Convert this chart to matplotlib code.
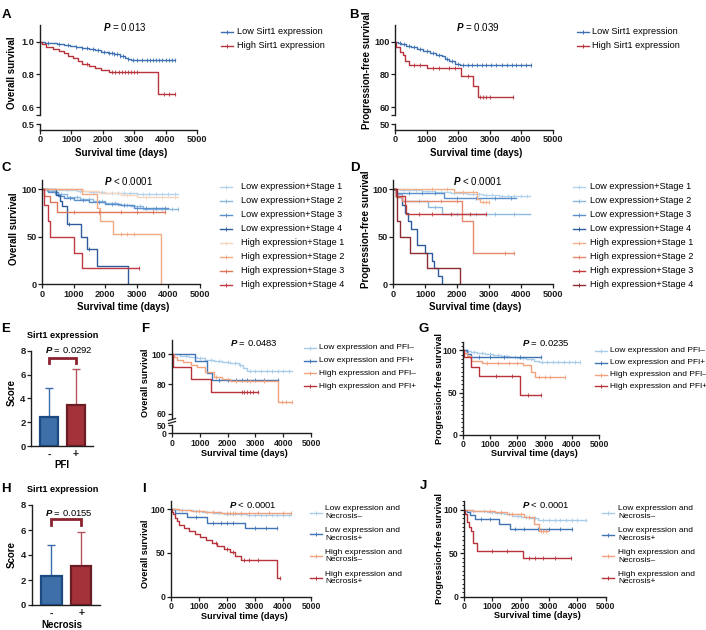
import numpy as np
import matplotlib
matplotlib.use("Agg")
import matplotlib.pyplot as plt
from matplotlib.lines import Line2D
from matplotlib.ticker import MultipleLocator

plt.rcParams['font.family'] = ['Liberation Sans', 'DejaVu Sans']
plt.rcParams['font.weight'] = 'bold'
plt.rcParams['mathtext.fontset'] = 'custom'
plt.rcParams['mathtext.it'] = 'Liberation Sans:italic'
plt.rcParams['mathtext.rm'] = 'Liberation Sans'

W, H = 706, 630
AXC = '#1e1e1e'

# ---------------- data ----------------
x_ticks = [0, 1000, 2000, 3000, 4000, 5000]

# A: overall survival, Sirt1 low/high (fraction)
A_low_t = [150, 350, 550, 750, 950, 1150, 1350, 1550, 1750, 1950, 2150, 2350, 2550, 2700, 2800, 2900]
A_low_s = [0.995, 0.99, 0.985, 0.98, 0.975, 0.968, 0.962, 0.955, 0.947, 0.938, 0.93, 0.922, 0.912, 0.902, 0.893, 0.886]
A_low_end = 4300
A_low_c = [250, 600, 900, 1150, 1350, 1500, 1700, 1850, 2050, 2200, 2300, 2350, 2450, 2550, 2650,
           2800, 2950, 3100, 3250, 3400, 3500, 3600, 3700, 3800, 3900, 4000, 4100, 4200, 4300]
A_high_t = [50, 200, 400, 600, 750, 900, 1050, 1200, 1350, 1550, 1750, 1950, 2200, 3750]
A_high_s = [0.985, 0.97, 0.955, 0.945, 0.93, 0.915, 0.9, 0.88, 0.862, 0.85, 0.84, 0.83, 0.815, 0.68]
A_high_end = 4300
A_high_c = [1500, 2300, 2400, 2500, 2600, 2700, 2800, 2900, 3000, 3100, 3950, 4100, 4300]

# B: progression-free survival, Sirt1 low/high (%)
B_low_t = [100, 200, 350, 500, 700, 900, 1100, 1300, 1500, 1600, 1700, 1900, 2050]
B_low_s = [99, 98.5, 97.5, 96.5, 95.5, 94.5, 93, 92, 91, 89.5, 88, 86.5, 85.5]
B_low_end = 4300
B_low_c = [150, 300, 450, 600, 800, 1000, 1200, 1400, 1650, 1800, 2000, 2150, 2300, 2450, 2600,
           2750, 2900, 3050, 3200, 3400, 3550, 3700, 3850, 4000, 4150, 4300]
B_high_t = [40, 150, 250, 320, 450, 1000, 2100, 2480, 2640]
B_high_s = [97, 94, 92, 88, 86, 84, 79, 73, 66.5]
B_high_end = 3750
B_high_c = [600, 800, 1200, 1400, 1700, 1900, 2300, 2700, 2800, 2900, 3000, 3750]

# C: overall survival by expression + stage (%)
stage_labels = ['Low expression+Stage 1', 'Low expression+Stage 2', 'Low expression+Stage 3',
                'Low expression+Stage 4', 'High expression+Stage 1', 'High expression+Stage 2',
                'High expression+Stage 3', 'High expression+Stage 4']
C_colors = ['#b3d3ec', '#8bb9e0', '#5b8fcb', '#2f5d9c', '#f7d6bd', '#f2a881', '#e07658', '#c23843']
C_t = [[300, 700, 1100, 1500, 2000, 2500, 3000],
       [150, 400, 800, 1200, 1600, 2000, 2400, 2800, 3200],
       [200, 500, 700, 1000, 1500, 2000, 2500, 2900],
       [450, 560, 620, 780, 1230, 1430, 1730, 2710],
       [1300, 1800, 2500, 3000],
       [1280, 1730, 1830, 2260, 3770],
       [60, 250, 480],
       [60, 180, 250, 1010, 1275]]
C_s = [[99.5, 99, 98, 97, 96.5, 96, 95.5],
       [98, 95, 92, 90, 88, 86, 84, 82, 79],
       [97, 93, 91, 89, 87, 85, 83, 80.5],
       [94, 88, 82, 63.6, 50, 37.5, 19, 0],
       [98, 96, 94, 92],
       [95, 80, 67, 53.3, 0],
       [93, 87, 76],
       [83.3, 66.7, 50, 33.3, 16.7]]
C_end = [4300, 4300, 4000, 2710, 4300, 3770, 3900, 3080]
C_c = [[400, 800, 1200, 1600, 1900, 2200, 2400, 2600, 2800, 3000, 3200, 3400, 3600, 3800, 4000, 4200],
       [600, 1100, 1500, 1900, 2300, 2700, 3100, 3500, 3800, 4100, 4300],
       [900, 1300, 1800, 2200, 2600, 3000, 3300, 3600, 3900],
       [850, 1500],
       [2000, 2700, 3300, 3800, 4200],
       [2500, 2700, 2900],
       [1000, 1800, 2500, 3000, 3500, 3900],
       [3080]]

# D: progression-free survival by expression + stage (%)
D_colors = ['#b3d3ec', '#8bb9e0', '#5b8fcb', '#2f5d9c', '#f2b08a', '#e58a70', '#c43a3c', '#8c2d34']
D_t = [[200, 500, 900, 1300, 1800, 2300, 2800, 3300],
       [110, 260, 1100, 1520],
       [80, 1600],
       [100, 260, 360, 470, 545, 730, 990, 1200, 1290, 1400, 1540],
       [1900, 2640, 2720],
       [100, 260, 2165, 2490],
       [90, 380, 400],
       [125, 210, 520, 1045, 2090]]
D_s = [[99.5, 99, 98, 97, 96, 95, 94, 93],
       [95, 88, 81, 74],
       [96.5, 90.5],
       [91.7, 83.3, 75, 66.7, 58.3, 41.7, 33.3, 25, 16.7, 8.3, 0],
       [97, 90, 86.5],
       [92, 88, 66.7, 32.6],
       [92.5, 83, 74],
       [66.7, 50, 33.3, 16.7, 0]]
D_end = [4300, 4300, 3850, 1540, 3000, 3790, 2900, 2090]
D_c = [[300, 700, 1100, 1500, 1900, 2200, 2500, 2700, 2900, 3100, 3400, 3600, 3800, 4000, 4200],
       [800, 1300, 2000, 2600, 3200, 3800],
       [500, 900, 1300, 2000, 2600, 3200, 3700],
       [],
       [1200, 1700, 2200, 2500, 2800, 2900, 3000],
       [1500, 2000, 3500, 3790],
       [800, 1200, 1800, 2400, 2900],
       []]

# F / G: PFI subgroups
pfi_labels = ['Low expression and PFI\u2013', 'Low expression and PFI+',
              'High expression and PFI\u2013', 'High expression and PFI+']
grp_colors = ['#a9cce8', '#3f74b5', '#f0a37c', '#b8323c']
F_t = [[300, 600, 900, 1200, 1500, 1800, 2100, 2400, 2560, 2700],
       [840, 1260, 1440],
       [60, 180, 400, 700, 900, 1200, 1500, 1800, 2100, 3800],
       [30, 700, 1410]]
F_s = [[99, 98.5, 97.5, 96.5, 95.5, 95, 94, 93, 91, 88.8],
       [95.5, 87.7, 82.5],
       [98, 96.5, 95, 93, 91.5, 88, 85, 83.5, 82, 67.7],
       [91.7, 83.3, 75]]
F_end = [4300, 3800, 4300, 3100]
F_c = [[500, 1000, 1400, 1700, 2000, 2250, 2450, 2800, 3000, 3200, 3400, 3600, 3800, 4000, 4200],
       [1700, 2000, 2300, 2500, 2700, 3000, 3300, 3800],
       [1600, 2300, 2800, 3300, 3950, 4100, 4300],
       [2500, 2600, 2700, 2800, 2900, 3100]]

G_t = [[100, 300, 500, 800, 1100, 1400, 1700, 2000, 2300, 2600, 2800],
       [150, 300],
       [50, 150, 300, 700, 2200, 2500, 2650],
       [40, 310, 600, 2100]]
G_s = [[99, 98, 97, 96, 95, 94, 92.5, 91, 89.5, 88, 86.5],
       [96, 92],
       [97, 93, 88, 85, 83, 75, 69],
       [92, 81, 70, 47]]
G_end = [4300, 2850, 3750, 2850]
G_c = [[200, 400, 700, 1000, 1300, 1600, 1900, 2200, 2500, 2900, 3100, 3300, 3500, 3700, 3900, 4100, 4300],
       [600, 1000, 1500, 2100, 2850],
       [900, 1300, 1700, 2000, 2800, 3000, 3200, 3750],
       [1200, 1800, 2400, 2850]]

# I / J: Necrosis subgroups
nec_labels = ['Low expression and\nNecrosis\u2013', 'Low expression and\nNecrosis+',
              'High expression and\nNecrosis\u2013', 'High expression and\nNecrosis+']
I_t = [[200, 500, 800, 1100, 1500, 1900, 2300, 2700],
       [150, 560, 1270, 2640],
       [300, 700, 1200, 1800],
       [30, 80, 130, 200, 300, 450, 650, 850, 1050, 1250, 1450, 1650, 1900, 2100, 2300, 2500, 3800]]
I_s = [[99.5, 99, 98, 97, 96, 95, 94, 93],
       [96, 91.5, 84, 78],
       [99, 98, 97, 96],
       [97, 94, 90, 86, 82, 78, 75, 72, 68.5, 65, 61, 58, 55, 51, 47, 42, 21]]
I_end = [4300, 3800, 4300, 3900]
I_c = [[400, 900, 1300, 1700, 2000, 2200, 2500, 2800, 3000, 3200, 3400, 3600, 3800, 4000, 4200],
       [900, 1500, 1800, 2000, 2200, 3000, 3400, 3800],
       [1000, 1500, 2000, 2100, 2200, 2300, 2500, 2800, 3100, 3500, 4000, 4300],
       [1600, 2000, 2200, 2600, 2800, 3100, 3900]]

J_t = [[200, 500, 800, 1100, 1400, 1700, 2000, 2300, 2600],
       [100, 200, 400, 1250, 1620],
       [300, 700, 1100, 1500, 2100, 2480, 2630],
       [50, 100, 170, 240, 330, 470, 2090]]
J_s = [[99, 98, 97, 96, 94.5, 93, 91.5, 90, 88],
       [97, 94, 89, 84, 78],
       [99, 98, 97, 95.5, 92, 84, 75],
       [95, 86, 80, 75, 62, 52, 44]]
J_end = [4300, 3800, 2980, 3780]
J_c = [[300, 700, 1000, 1300, 1600, 1900, 2200, 2500, 2800, 3000, 3200, 3400, 3600, 3800, 4000, 4300],
       [600, 900, 1800, 2100, 2600, 3000, 3400, 3800],
       [900, 1300, 1700, 2000, 2300, 2700, 2800, 2900],
       [1000, 1500, 2300, 2500, 2800, 3200, 3780]]

# E / H: bar charts
bar_labels = ['-', '+']
E_mean = [2.4, 3.45]
E_sd = [2.5, 3.0]
H_mean = [2.35, 3.1]
H_sd = [2.45, 2.75]
bar_fill = ['#3e6fa8', '#a3323b']
bar_edge = ['#1c4a80', '#6c1d24']
err_col = ['#3b6cab', '#b3545e']

# ---------------- helpers ----------------
fig = plt.figure(figsize=(W / 100, H / 100), dpi=100)


def add_ax(x0, y0, x1, y1):
    ax = fig.add_axes([x0 / W, 1 - y1 / H, (x1 - x0) / W, (y1 - y0) / H])
    ax.patch.set_alpha(0)
    for s in ['top', 'right']:
        ax.spines[s].set_visible(False)
    for s in ax.spines.values():
        s.set_linewidth(1.0)
        s.set_color(AXC)
    return ax


def ticks(ax, fs):
    ax.tick_params(length=2.6, width=0.9, pad=1.3, labelsize=fs, colors=AXC)


def ftext(x, y, s, **kw):
    kw.setdefault('ha', 'center')
    kw.setdefault('va', 'center')
    fig.text(x / W, 1 - y / H, s, **kw)


def km(ax, t, s, end, cens, color, start=100.0):
    tt = np.r_[0, t, end]
    ss = np.r_[start, s, s[-1]]
    ax.step(tt, ss, where='post', color=color, lw=1.0)
    if len(cens):
        c = np.asarray(cens, dtype=float)
        idx = np.searchsorted(tt, c, side='right') - 1
        ax.plot(c, ss[idx], ls='none', marker='|', ms=2.8, mew=0.6, color=color)


def legend(xl, xt, y0, dy, labels, colors, fs):
    for i, (lab, col) in enumerate(zip(labels, colors)):
        y = y0 + i * dy
        fig.add_artist(Line2D([xl / W, (xl + 12) / W], [1 - y / H] * 2, color=col, lw=1.0,
                              transform=fig.transFigure))
        fig.add_artist(Line2D([(xl + 6) / W], [1 - y / H], color=col, marker='|', ms=2.8, mew=0.7,
                              transform=fig.transFigure))
        ftext(xt, y, lab, ha='left', fontsize=fs, fontweight='normal', linespacing=1.15)


def xaxis(ax, fs):
    ax.set_xlim(0, 5000)
    ax.set_xticks(x_ticks)
    ticks(ax, fs)


def broken(x0, x1, ytop, yseg_bot, ylow_top, yaxis, lims_up, ticks_up, labs_up, lims_low, ticks_low,
           labs_low, fs, cap=True):
    up = add_ax(x0, ytop, x1, yseg_bot)
    up.spines['bottom'].set_visible(False)
    up.set_xlim(0, 5000)
    up.set_ylim(*lims_up)
    tk = list(ticks_up)
    lab = list(labs_up)
    if cap:
        tk = [lims_up[0] + 1e-6] + tk
        lab = [''] + lab
    up.set_yticks(tk, lab)
    up.tick_params(axis='x', bottom=False, labelbottom=False)
    ticks(up, fs)
    lo = add_ax(x0, ylow_top, x1, yaxis)
    lo.set_ylim(*lims_low)
    lo.set_yticks(list(ticks_low), list(labs_low))
    xaxis(lo, fs)
    return up, lo


# ---------------- panel A ----------------
upA, loA = broken(40, 197, 25, 115.3, 124, 130, (0.551, 1.102), [0.6, 0.8, 1.0], ['0.6', '0.8', '1.0'],
                  (0.463, 0.5003), [0.5], ['0.5'], 6.6)
km(upA, A_low_t, A_low_s, A_low_end, A_low_c, '#3d70b2', start=1.0)
km(upA, A_high_t, A_high_s, A_high_end, A_high_c, '#b8343c', start=1.0)
ftext(125, 27, r'$P$ = 0.013', fontsize=7, fontweight='normal')
ftext(12, 73, 'Overall survival', rotation=90, fontsize=7)
ftext(121, 153, 'Survival time (days)', fontsize=7)
legend(221, 237, 32, 14, ['Low Sirt1 expression', 'High Sirt1 expression'], ['#3d70b2', '#b8343c'], 6.6)

# ---------------- panel B ----------------
upB, loB = broken(395, 552.7, 25, 115.3, 124, 130, (55.1, 110.2), [60, 80, 100], ['60', '80', '100'],
                  (46.3, 50.03), [50], ['50'], 6.6)
km(upB, B_low_t, B_low_s, B_low_end, B_low_c, '#3d70b2')
km(upB, B_high_t, B_high_s, B_high_end, B_high_c, '#b8343c')
ftext(478, 27, r'$P$ = 0.039', fontsize=7, fontweight='normal')
ftext(367, 70, 'Progression-free survival', rotation=90, fontsize=7)
ftext(476, 153, 'Survival time (days)', fontsize=7)
legend(577, 592, 32, 14, ['Low Sirt1 expression', 'High Sirt1 expression'], ['#3d70b2', '#b8343c'], 6.6)

# ---------------- panels C, D ----------------
for (x0, x1, T, S, E_, Cc, cols, px, ylx, ylab, lx, tx) in [
        (42, 200, C_t, C_s, C_end, C_c, C_colors, 128, 14, 'Overall survival', 220, 241),
        (393.3, 552.7, D_t, D_s, D_end, D_c, D_colors, 477, 366, 'Progression-free survival', 573, 590)]:
    ax = add_ax(x0, 179.8, x1, 284.3)
    ax.set_ylim(0, 110)
    ax.set_yticks([0, 50, 100])
    xaxis(ax, 6.6)
    for i in range(8):
        km(ax, T[i], S[i], E_[i], Cc[i], cols[i])
    ftext(px, 181, r'$P$ < 0.0001', fontsize=7, fontweight='normal')
    ftext(ylx, 229, ylab, rotation=90, fontsize=7)
    ftext((x0 + x1) / 2 + 2, 306.5, 'Survival time (days)', fontsize=7)
    legend(lx, tx, 186.7, 14, stage_labels, cols, 6.6)

# ---------------- panel F (broken axis) ----------------
upF, loF = broken(172, 311, 340, 418.3, 425, 433.3, (57.1, 109.6), [60, 80, 100], ['60', '80', '100'],
                  (0, 50.5), [0, 50], ['0', '50'], 6.2, cap=False)
for i in range(4):
    km(upF, F_t[i], F_s[i], F_end[i], F_c[i], grp_colors[i])
for yy in [419.5, 422.5]:
    fig.add_artist(Line2D([168.5 / W, 175.5 / W], [1 - (yy + 1) / H, 1 - (yy - 1) / H], color=AXC, lw=0.9,
                          transform=fig.transFigure))
ftext(254, 342.7, r'$P$ = 0.0483', fontsize=6.8, fontweight='normal')
ftext(145, 383, 'Overall survival', rotation=90, fontsize=6.6)
ftext(244, 454, 'Survival time (days)', fontsize=6.6)
legend(304, 319.3, 347.7, 12.8, pfi_labels, grp_colors, 6.0)

# ---------------- panels G, I, J ----------------
for (x0, x1, ytop, y0, T, S, E_, Cc, ptxt, px, py, ylx, yly, ylab, xly, labels, lx, tx, ly, ldy, minor) in [
        (463, 599, 342, 435, G_t, G_s, G_end, G_c, r'$P$ = 0.0235', 546, 343.3, 439, 389,
         'Progression-free survival', 454, pfi_labels, 595, 610, 350.7, 11.9, True),
        (171, 311, 500.5, 596.7, I_t, I_s, I_end, I_c, r'$P$ < 0.0001', 253, 505, 145, 554,
         'Overall survival', 616.5, nec_labels, 310, 325, 512.5, 21.8, False),
        (464, 605.7, 501, 596.7, J_t, J_s, J_end, J_c, r'$P$ < 0.0001', 546, 505, 439, 549,
         'Progression-free survival', 615.7, nec_labels, 602, 618.3, 512.8, 21.7, True)]:
    ax = add_ax(x0, ytop, x1, y0)
    ax.set_ylim(0, 110)
    ax.set_yticks([0, 50, 100])
    if minor:
        ax.yaxis.set_minor_locator(MultipleLocator(5))
        ax.tick_params(axis='y', which='minor', length=1.6, width=0.7, colors=AXC)
    xaxis(ax, 6.2)
    for i in range(4):
        km(ax, T[i], S[i], E_[i], Cc[i], grp_colors[i])
    ftext(px, py, ptxt, fontsize=6.8, fontweight='normal')
    ftext(ylx, yly, ylab, rotation=90, fontsize=6.6)
    ftext((x0 + x1) / 2 + 3, xly, 'Survival time (days)', fontsize=6.6)
    legend(lx, tx, ly, ldy, labels, grp_colors, 6.0)

# ---------------- bar panels E, H ----------------
for (x0, x1, ytop, y0, means, sds, xl, ptxt, title_y, p_y, br_top, br_bot, xlab_y, sc_y) in [
        (31, 93, 350.7, 446, E_mean, E_sd, 'PFI', r'$P$ = 0.0292', 336, 350, 7.37, 6.95, 465, 393),
        (31.7, 100, 505, 605, H_mean, H_sd, 'Necrosis', r'$P$ = 0.0155', 490, 512.7, 6.86, 6.4, 625.5, 554)]:
    ax = add_ax(x0, ytop, x1, y0)
    ax.set_ylim(0, 8)
    ax.set_yticks([0, 2, 4, 6, 8])
    ax.set_xlim(-0.66, 1.63)
    xs = np.arange(len(means))
    ax.bar(xs, means, width=0.68, color=bar_fill, edgecolor=bar_edge, linewidth=1.6, zorder=3)
    for i in range(len(means)):
        ax.errorbar(xs[i], means[i], yerr=[[0], [sds[i]]], color=err_col[i], lw=1.0, capsize=3.2,
                    capthick=1.0, zorder=2)
    ax.plot([0, 0, 1, 1], [br_bot, br_top, br_top, br_bot], color='#8a2330', lw=2.0,
            solid_joinstyle='miter', clip_on=False, zorder=4)
    ax.set_xticks(xs, bar_labels)
    ticks(ax, 6.8)
    ax.tick_params(axis='x', length=0, pad=2.5, labelsize=7.5)
    ftext(63, title_y, 'Sirt1 expression', fontsize=6.6)
    ftext(68.5, p_y, ptxt, fontsize=6.8, fontweight='normal')
    ftext(62, xlab_y, xl, fontsize=7)
    ftext(12, sc_y, 'Score', rotation=90, fontsize=7)

# ---------------- panel letters ----------------
for L, x, y in [('A', 6, 14.7), ('B', 354, 14.7), ('C', 6, 168), ('D', 354.5, 168), ('E', 5.5, 329),
                ('F', 145, 329.5), ('G', 424, 329), ('H', 6, 488.5), ('I', 144, 488.5), ('J', 423, 486)]:
    ftext(x, y, L, fontsize=9.5)

fig.savefig('out.png', dpi=100)
